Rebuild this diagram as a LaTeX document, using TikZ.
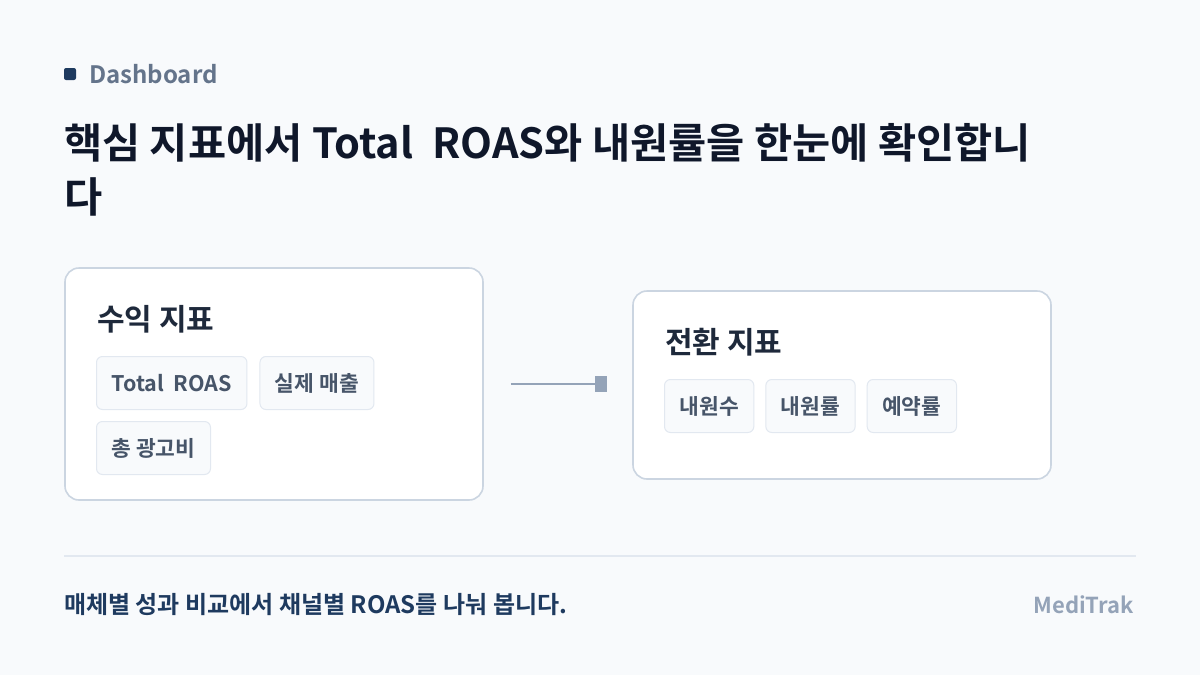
\documentclass[tikz,border=0pt]{standalone}
\usepackage{fontspec}
\setmainfont{Noto Sans CJK KR}[BoldFont={Noto Sans CJK KR Bold}]
\usetikzlibrary{positioning,arrows.meta}
\definecolor{pagebg}{HTML}{F8FAFC}
\definecolor{navy}{HTML}{1E3A5F}
\definecolor{slate}{HTML}{64748B}
\definecolor{ink}{HTML}{1E293B}
\definecolor{deepink}{HTML}{0F172A}
\definecolor{chiptext}{HTML}{475569}
\definecolor{cardline}{HTML}{CBD5E1}
\definecolor{chipline}{HTML}{E2E8F0}
\definecolor{wire}{HTML}{94A3B8}

\begin{document}
\begin{tikzpicture}[x=1pt,y=-1pt,
    card/.style={draw=cardline, line width=1.6pt, fill=white, rounded corners=14pt},
    cardtitle/.style={anchor=base west, inner sep=0pt, text=ink, font=\fontsize{30}{34}\selectfont\bfseries},
    chip/.style={draw=chipline, line width=1pt, fill=pagebg, rounded corners=6pt,
        minimum height=53pt, inner xsep=15pt, text=chiptext,
        font=\fontsize{21.5}{24}\selectfont\bfseries}]
    % Page
    \fill[pagebg] (0,0) rectangle (1200,675);
    \useasboundingbox (0,0) rectangle (1200,675);

    % Header
    \fill[navy, rounded corners=2pt] (64,68) rectangle (76,80);
    \node (kicker) at (89,83) [anchor=base west, inner sep=0pt, text=slate, font=\fontsize{24}{28}\selectfont\bfseries] {Dashboard};
    \node (headline) at (64,212) [anchor=base west, inner sep=0pt, align=left, text=deepink, font=\fontsize{41.5}{54}\selectfont\bfseries]
        {핵심 지표에서 Total~ ROAS와 내원률을 한눈에 확인합니\\다};

    % Cards
    \node (revenue) at (274,384) [card, minimum width=418pt, minimum height=232pt] {};
    \node (conversion) at (842,385) [card, minimum width=418pt, minimum height=188pt] {};
    \node (revtitle) at (97,330) [cardtitle] {수익 지표};
    \node (convtitle) at (665,353) [cardtitle] {전환 지표};

    % Revenue chips
    \node (roas) at (96,356) [chip, anchor=north west] {Total~ ROAS};
    \node (sales) [chip, right=12pt of roas] {실제 매출};
    \node (spend) [chip, below=11pt of roas.south west, anchor=north west] {총 광고비};

    % Conversion chips
    \node (visits) at (664,379) [chip, anchor=north west] {내원수};
    \node (visitrate) [chip, right=11pt of visits] {내원률};
    \node (bookrate) [chip, right=11pt of visitrate] {예약률};

    % Link
    \draw[wire, line width=2pt, -{Square[length=12pt,width=16pt]}, shorten <=27pt, shorten >=25pt]
        (revenue.east) -- (revenue.east -| conversion.west);

    % Footer
    \draw[chipline, line width=2pt] (64,556) -- (1136,556);
    \node (note) at (64,613) [anchor=base west, inner sep=0pt, text=navy, font=\fontsize{24}{27}\selectfont\bfseries]
        {매체별 성과 비교에서 채널별 ROAS를 나눠 봅니다.};
    \node (brand) at (1134,613) [anchor=base east, inner sep=0pt, text=wire, font=\fontsize{22}{26}\selectfont\bfseries] {MediTrak};
\end{tikzpicture}
\end{document}
